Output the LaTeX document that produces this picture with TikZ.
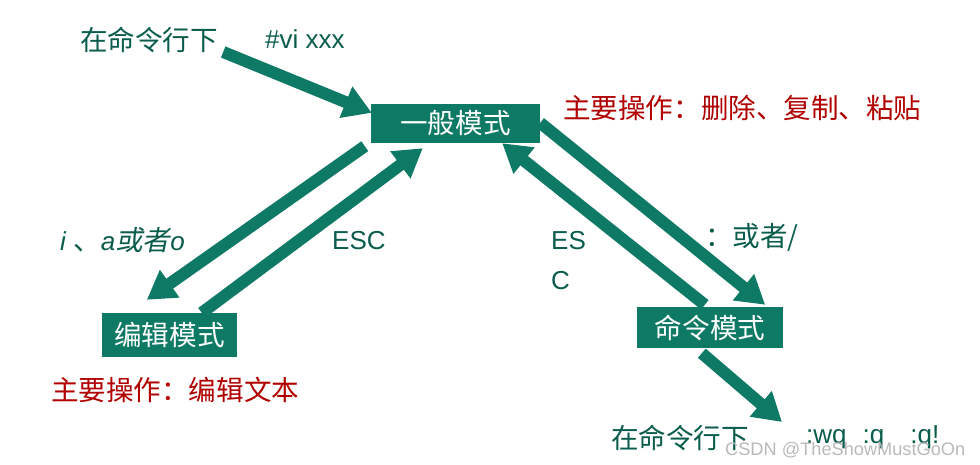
\documentclass[tikz,border=0pt]{standalone}
\usepackage{fontspec}
\setmainfont{Liberation Sans}
\newfontfamily\cjkfam[Scale=1.06]{Noto Sans CJK SC}
\newfontfamily\cjkitfam[FakeSlant=0.2,Scale=1.06]{Noto Sans CJK SC}
\newcommand\cjk{\cjkfam}
\newcommand\cjkit{\cjkitfam}
\newfontfamily\latit{Liberation Sans Italic}
\usetikzlibrary{arrows.meta,calc}
\definecolor{boxgreen}{RGB}{14,122,102}
\definecolor{labteal}{RGB}{10,92,76}
\definecolor{opred}{RGB}{176,0,0}
\definecolor{wmgray}{RGB}{185,185,185}
\tikzset{
  modebox/.style={fill=boxgreen, text=white, inner sep=0pt, font=\fontsize{26}{30}\selectfont\cjk},
  lab/.style={anchor=base west, inner sep=0pt, text=labteal, font=\fontsize{26}{30}\selectfont},
  oplab/.style={anchor=base west, inner sep=0pt, text=opred, font=\fontsize{26}{30}\selectfont\cjk},
  arr/.style={draw=boxgreen, line width=12pt, -{Triangle[length=28pt,width=32pt]}}
}
\begin{document}
\begin{tikzpicture}[x=1pt,y=-1pt]
\useasboundingbox (0,0) rectangle (980,464);
% mode boxes
\node[modebox, minimum width=169pt, minimum height=39pt] (gen) at (455.5,123.5) {一般模式};
\node[modebox, minimum width=135pt, minimum height=44pt] (edit) at (169.5,335) {编辑模式};
\node[modebox, minimum width=146pt, minimum height=41pt] (cmd) at (710,327.5) {命令模式};
% labels
\node[lab] (cl1) at (80,50) {\cjk 在命令行下};
\node[lab] (vi) at (265,48) {\#vi xxx};
\node[oplab] (op1) at (563,118) {主要操作：删除、复制、粘贴};
\node[lab] (iao) at (60,250) {\latit i \cjk 、\latit a\cjkit 或者\latit o};
\node[lab] (esc1) at (332,249) {ESC};
\node[lab] (es) at (551,249) {ES};
\node[lab] (c) at (551,289) {C};
\node[lab] (or) at (705,246) {\cjk ：或者/};
\node[oplab] (op2) at (51,400) {主要操作：编辑文本};
\node[lab] (cl2) at (611,448) {\cjk 在命令行下};
\node[lab] (quit) at (806,443) {:wq\hspace{16pt}:q\hspace{26pt}:q!};
\node[anchor=base west, inner sep=0pt, text=wmgray, font=\fontsize{18.2}{20}\selectfont] (wm) at (725,455) {CSDN @TheShowMustGoOn};
% connectors
\draw[arr] ($(cl1.base east)+(5,2)$) -- ($(gen.north west)+(1,9)$);
\draw[arr] ($(gen.south west)+(-6,3)$) -- ($(edit.north west)+(45,-13)$);
\draw[arr] ($(edit.north west)+(100,0)$) -- ($(gen.south west)+(52,5)$);
\draw[arr] ($(cmd.north west)+(68,-2)$) -- ($(gen.south east)+(-38,0)$);
\draw[arr] ($(gen.north east)+(0,19)$) -- ($(cmd.north east)+(-18,-2)$);
\draw[arr] ($(cmd.south west)+(65,5)$) -- ($(quit.base west)+(-24,-21)$);
\end{tikzpicture}
\end{document}
